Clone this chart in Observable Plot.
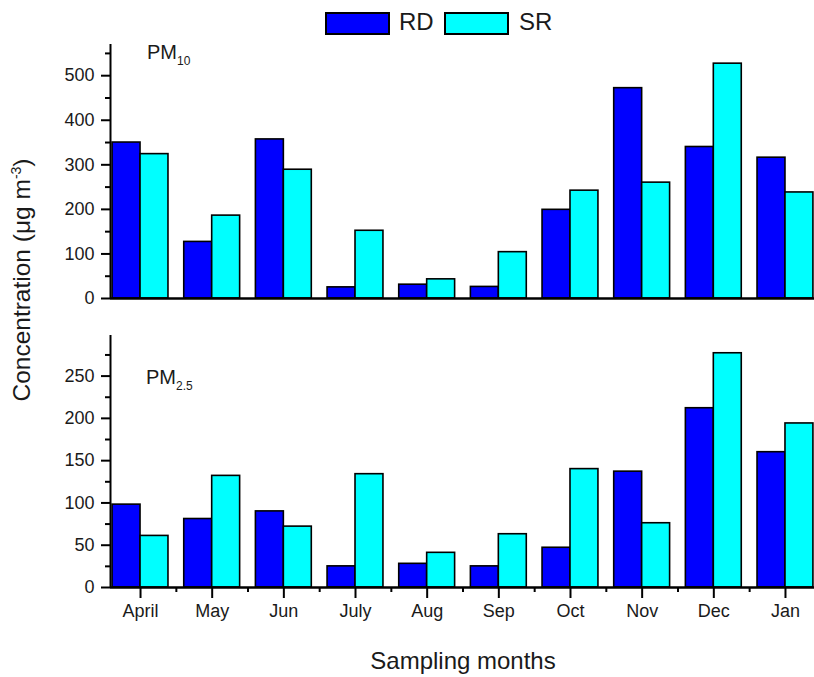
<!DOCTYPE html>
<html><head><meta charset="utf-8">
<script src="https://cdn.jsdelivr.net/npm/d3@7"></script>
<script src="https://cdn.jsdelivr.net/npm/@observablehq/plot@0.6"></script>
<style>
body{margin:0;background:#fff;font-family:"Liberation Sans",Arial,sans-serif;color:#1a1a1a;}
#wrap{position:relative;width:814px;height:677px;overflow:hidden;background:#fff;}
#top{position:absolute;left:0;top:40px;}
#bottom{position:absolute;left:0;top:320px;}
.sw{position:absolute;top:12px;width:61px;height:19px;border:2px solid #000;}
.lt{position:absolute;top:8px;font-size:24px;line-height:28px;}
.pm{position:absolute;font-size:20px;line-height:22px;}
.pm sub{font-size:12px;vertical-align:-6px;}
#ylabel{position:absolute;left:22px;top:280px;transform:translate(-50%,-50%) rotate(-90deg);white-space:nowrap;font-size:24.5px;}
#ylabel sup{font-size:14px;vertical-align:9px;}
#xlabel{position:absolute;left:463px;top:647px;transform:translateX(-50%);white-space:nowrap;font-size:24px;line-height:28px;}
</style></head><body>
<div id="wrap">
  <div class="sw" style="left:325px;background:#0000ff"></div>
  <div class="lt" style="left:399px">RD</div>
  <div class="sw" style="left:444px;background:#00ffff"></div>
  <div class="lt" style="left:519px">SR</div>
  <div id="top"></div>
  <div id="bottom"></div>
  <div class="pm" style="left:147px;top:41px">PM<sub>10</sub></div>
  <div class="pm" style="left:146px;top:366px">PM<sub>2.5</sub></div>
  <div id="ylabel">Concentration (μg m<sup>-3</sup>)</div>
  <div id="xlabel">Sampling months</div>
</div>
<script>
const months = ["April","May","Jun","July","Aug","Sep","Oct","Nov","Dec","Jan"];
const series = ["RD","SR"];
const seriesColors = ["#0000ff","#00ffff"];
const pm10RD = [350,127,357,25,31,26,199,472,340,316];
const pm10SR = [324,186,289,152,43,104,242,260,527,238];
const pm25RD = [98,81,90,25,28,25,47,137,212,160];
const pm25SR = [61,132,72,134,41,63,140,76,277,194];
const pm10Major = [0,100,200,300,400,500];
const pm10Minor = [50,150,250,350,450,550];
const pm25Major = [0,50,100,150,200,250];
const pm25Minor = [25,75,125,175,225,275];
const xMajor = months.map((m,i)=>i);
const xMinor = months.slice(1).map((m,i)=>i+0.5);

const xDomain = [-0.419, 9.405];
const half = 0.39;

function rowsOf(rd, sr){
  const rows = [];
  months.forEach((m,i)=>{
    rows.push({i, month:m, series:"RD", value:rd[i]});
    rows.push({i, month:m, series:"SR", value:sr[i]});
  });
  return rows;
}

function panel({rd, sr, yMax, major, minor, showX, height, marginTop, marginBottom}){
  const rows = rowsOf(rd, sr);
  const marks = [
    Plot.rect(rows, {
      x1: d => d.series === "RD" ? d.i - half : d.i,
      x2: d => d.series === "RD" ? d.i : d.i + half,
      y1: 0, y2: "value",
      fill: "series", stroke: "#000", strokeWidth: 1.6
    }),
    Plot.ruleY([0], {stroke:"#000", strokeWidth:2.5}),
    Plot.ruleX([xDomain[0]], {y1:0, y2:yMax, stroke:"#000", strokeWidth:2}),
    Plot.axisY(major, {label:null, tickSize:9, tickPadding:7, stroke:"#000", strokeWidth:2, fontSize:18, fill:"#1a1a1a"}),
    Plot.axisY(minor, {label:null, tickSize:5, stroke:"#000", strokeWidth:2, tickFormat:()=>""})
  ];
  if (showX){
    marks.push(Plot.axisX(xMajor, {label:null, tickSize:11, tickPadding:6, stroke:"#000", strokeWidth:2, fontSize:18, fill:"#1a1a1a", tickFormat: i => months[i]}));
    marks.push(Plot.axisX(xMinor, {label:null, tickSize:5, stroke:"#000", strokeWidth:2, tickFormat: ()=>""}));
  }
  return Plot.plot({
    width: 814, height, marginLeft:110, marginRight:0, marginTop, marginBottom,
    style:{fontFamily:'"Liberation Sans",Arial,sans-serif', fontSize:"18px", color:"#1a1a1a", background:"transparent", overflow:"visible"},
    x:{domain:xDomain, axis:null, label:null},
    y:{domain:[0,yMax], axis:null, label:null},
    color:{domain:series, range:seriesColors},
    marks
  });
}

document.getElementById("top").appendChild(panel({rd:pm10RD, sr:pm10SR, yMax:570, major:pm10Major, minor:pm10Minor, showX:false, height:270, marginTop:4, marginBottom:12}));
document.getElementById("bottom").appendChild(panel({rd:pm25RD, sr:pm25SR, yMax:298, major:pm25Major, minor:pm25Minor, showX:true, height:320, marginTop:15, marginBottom:53}));
</script>
</body></html>
